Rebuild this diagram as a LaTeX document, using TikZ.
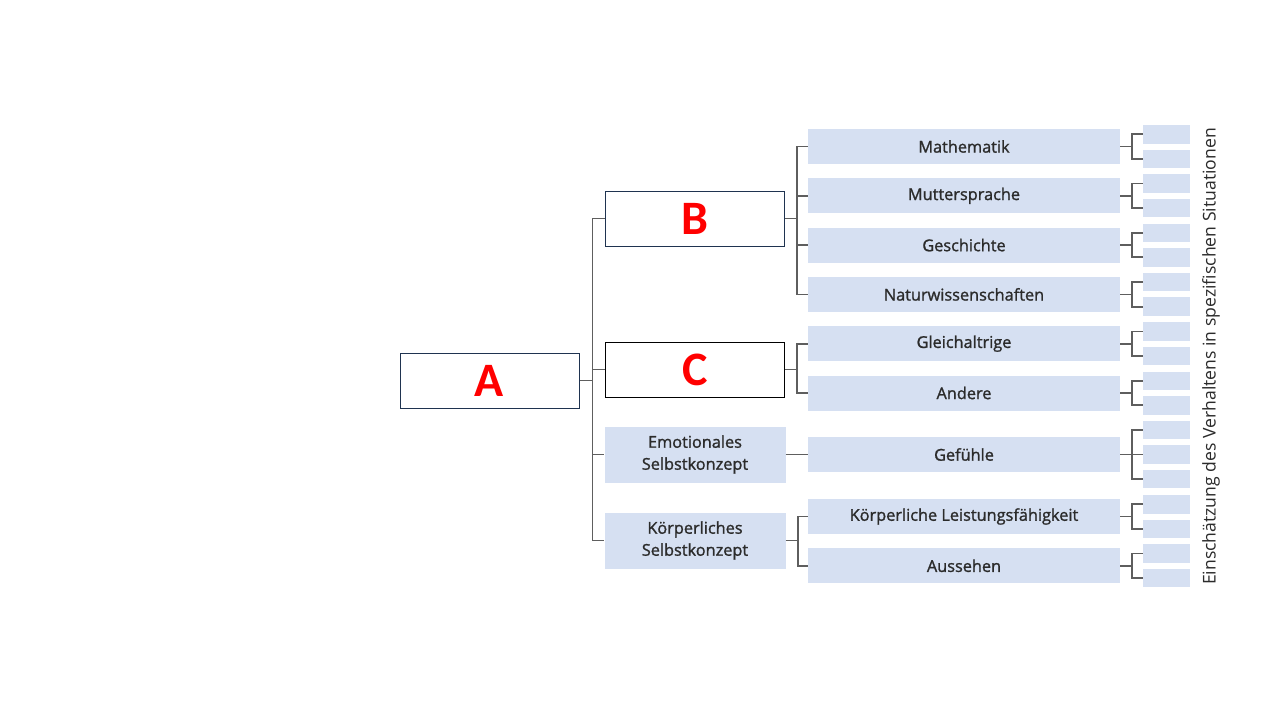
\documentclass[tikz,border=0pt]{standalone}
\usepackage{fontspec}
\setmainfont{Open Sans}[BoldFont={Open Sans},BoldFeatures={FakeBold=1.3}]
\newfontfamily\letterfont{Carlito}
\usepackage{tikz}
\usetikzlibrary{positioning,calc}
\usepackage{xcolor}
\definecolor{BoxFill}{HTML}{D6E0F2}
\definecolor{BoxText}{HTML}{2B2B2B}
\definecolor{BranchGray}{HTML}{5E5E5E}
\definecolor{FrameNavy}{HTML}{1F3350}
\definecolor{LetterRed}{HTML}{FF0000}
\tikzset{
  letterbox/.style={draw=FrameNavy,fill=white,line width=1pt,minimum width=179pt,minimum height=55pt,inner sep=0pt,text=LetterRed,font=\letterfont\bfseries\fontsize{48}{48}\selectfont},
  groupbox/.style={fill=BoxFill,minimum width=181pt,minimum height=56pt,inner sep=0pt,align=center,text=BoxText,font=\bfseries\fontsize{16.3}{22}\selectfont},
  areabox/.style={fill=BoxFill,minimum width=312pt,minimum height=35pt,inner sep=0pt,text=BoxText,font=\bfseries\fontsize{16.3}{20}\selectfont},
  itembox/.style={fill=BoxFill,minimum width=47pt,minimum height=18.5pt,inner sep=0pt},
  branch/.style={draw=BranchGray,line width=1.8pt}
}
\begin{document}
\begin{tikzpicture}[x=1pt,y=-1pt]
\useasboundingbox[fill=white] (0,0) rectangle (1280,720);
% first level
\node[letterbox] (A) at (489.5,380.5) {A};
\node[letterbox] (B) at (695,218.5) {B};
\node[letterbox,draw=black] (C) at (695,369.5) {C};
\node[groupbox] (emo) at (695,454.5) {Emotionales\\Selbstkonzept};
\node[groupbox] (koe) at (695,540.5) {Körperliches\\Selbstkonzept};
% second level
\node[areabox] (math) at (964,146.5) {Mathematik};
\node[areabox] (mutter) at (964,195.8) {Muttersprache};
\node[areabox] (gesch) at (964,245.1) {Geschichte};
\node[areabox] (natur) at (964,294.4) {Naturwissenschaften};
\node[areabox] (gleich) at (964,343.7) {Gleichaltrige};
\node[areabox] (andere) at (964,393) {Andere};
\node[areabox] (gefuehl) at (964,454.5) {Gefühle};
\node[areabox] (leist) at (964,516.5) {Körperliche Leistungsfähigkeit};
\node[areabox] (ausseh) at (964,565.8) {Aussehen};
% situations
\foreach \area in {math,mutter,gesch,natur,gleich,andere,leist,ausseh} {
  \node[itembox] (\area-1) at ($(\area.center)+(202.5,-12.25)$) {};
  \node[itembox] (\area-2) at ($(\area.center)+(202.5,12.25)$) {};
  \draw[branch] (\area.east) -- ++(12,0) coordinate (\area-fork);
  \draw[branch] (\area-fork) |- (\area-1.west);
  \draw[branch] (\area-fork) |- (\area-2.west);
}
\node[itembox] (gefuehl-1) at ($(gefuehl.center)+(202.5,-24.5)$) {};
\node[itembox] (gefuehl-2) at ($(gefuehl.center)+(202.5,0)$) {};
\node[itembox] (gefuehl-3) at ($(gefuehl.center)+(202.5,24.5)$) {};
\draw[branch] (gefuehl.east) -- (gefuehl-2.west);
\draw[branch] ($(gefuehl.east)+(12,0)$) coordinate (gefuehl-fork) |- (gefuehl-1.west);
\draw[branch] (gefuehl-fork) |- (gefuehl-3.west);
\node[rotate=90,text=BoxText,font=\fontsize{17.6}{18}\selectfont] (sit) at (1211,356.5) {Einschätzung des Verhaltens in spezifischen Situationen};
% connectors
\draw[branch] (A.east) -- ++(13,0) coordinate (trunk);
\draw[branch] (trunk) |- (B.west);
\draw[branch] (trunk) |- (C.west);
\draw[branch] (trunk) |- (emo.west);
\draw[branch] (trunk) |- (koe.west);
\draw[branch] (B.east) -- ++(12,0) coordinate (bfork);
\draw[branch] (bfork) |- (math.west); \draw[branch] (bfork) |- (mutter.west);
\draw[branch] (bfork) |- (gesch.west); \draw[branch] (bfork) |- (natur.west);
\draw[branch] (C.east) -- ++(12,0) coordinate (cfork);
\draw[branch] (cfork) |- (gleich.west); \draw[branch] (cfork) |- (andere.west);
\draw[branch] (emo.east) -- (gefuehl.west);
\draw[branch] (koe.east) -- ++(12,0) coordinate (kfork);
\draw[branch] (kfork) |- (leist.west); \draw[branch] (kfork) |- (ausseh.west);
\end{tikzpicture}
\end{document}
